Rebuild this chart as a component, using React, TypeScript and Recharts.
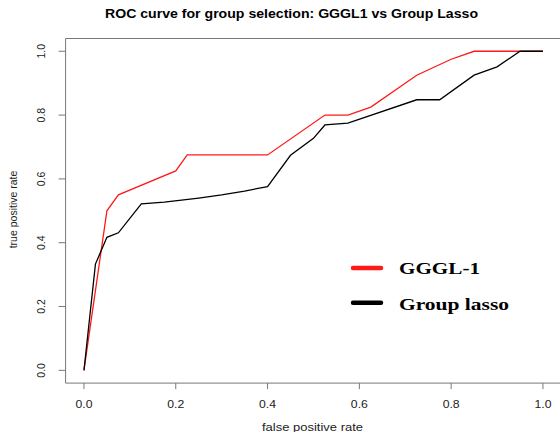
import React from 'react';
import { LineChart, Line, XAxis, YAxis, ReferenceArea, Legend } from 'recharts';

const ggglFpr = [0, 0.05, 0.075, 0.2, 0.225, 0.4, 0.525, 0.575, 0.625, 0.725, 0.8, 0.85, 1.0];
const ggglTpr = [0, 0.5, 0.55, 0.625, 0.675, 0.675, 0.8, 0.8, 0.825, 0.925, 0.975, 1.0, 1.0];

const lassoFpr = [0, 0.025, 0.05, 0.075, 0.125, 0.175, 0.25, 0.3, 0.35, 0.4, 0.45, 0.5, 0.525, 0.575, 0.725, 0.775, 0.85, 0.9, 0.95, 0.975, 1.0];
const lassoTpr = [0, 0.333, 0.417, 0.431, 0.522, 0.527, 0.54, 0.55, 0.562, 0.576, 0.674, 0.727, 0.769, 0.775, 0.848, 0.848, 0.925, 0.951, 1.0, 1.0, 1.0];

const xTicks = [0, 0.2, 0.4, 0.6, 0.8, 1.0];
const yTicks = [0, 0.2, 0.4, 0.6, 0.8, 1.0];

const seriesNames = ['GGGL-1', 'Group lasso'];
const seriesColors = ['#ff1a1a', '#000000'];

const titleText = 'ROC curve for group selection: GGGL1 vs Group Lasso';
const xTitle = 'false positive rate';
const yTitle = 'true positive rate';

const ggglData = ggglFpr.map((f, i) => ({ fpr: f, tpr: ggglTpr[i] }));
const lassoData = lassoFpr.map((f, i) => ({ fpr: f, tpr: lassoTpr[i] }));

const SANS = '"Liberation Sans", Arial, Helvetica, sans-serif';
const SERIF = '"Liberation Serif", "Times New Roman", serif';

const YTick = (props: any) => {
  const { x, y, payload } = props;
  return (
    <text
      x={x}
      y={y}
      transform={`rotate(-90 ${x} ${y})`}
      textAnchor="middle"
      fontSize={10.5}
      fill="#222"
      fontFamily={SANS}
    >
      {Number(payload.value).toFixed(1)}
    </text>
  );
};

const XTick = (props: any) => {
  const { x, y, payload } = props;
  return (
    <text
      x={x}
      y={y}
      dy="0.71em"
      textAnchor="middle"
      fontSize={10.5}
      fill="#222"
      fontFamily={SANS}
      textLength={17}
      lengthAdjust="spacingAndGlyphs"
    >
      {Number(payload.value).toFixed(1)}
    </text>
  );
};

const LegendContent = () => {
  const widths = [81, 110];
  return (
    <svg width={210} height={72} style={{ display: 'block' }}>
      {seriesNames.map((name, i) => {
        const ly = i === 0 ? 18 : 52.7;
        const ty = i === 0 ? 23.5 : 60;
        return (
          <g key={name}>
            <line x1={13} x2={41} y1={ly} y2={ly} stroke={seriesColors[i]} strokeWidth={4.5} strokeLinecap="round" />
            <text
              x={59}
              y={ty}
              fontSize={17.5}
              fontWeight="bold"
              fontFamily={SERIF}
              fill="#000"
              textLength={widths[i]}
              lengthAdjust="spacingAndGlyphs"
            >
              {name}
            </text>
          </g>
        );
      })}
    </svg>
  );
};

export default function App() {
  return (
    <div style={{ position: 'absolute', left: 0, top: 0, width: 560, height: 432, overflow: 'hidden', background: '#fff' }}>
      <LineChart
        width={562}
        height={432}
        margin={{ top: 38.5, right: 0.7, left: 0, bottom: 0 }}
      >
        <text
          x={291.5}
          y={18}
          textAnchor="middle"
          fontSize={13}
          fontWeight="bold"
          fontFamily={SANS}
          fill="#000"
          textLength={373}
          lengthAdjust="spacingAndGlyphs"
        >
          {titleText}
        </text>
        <text
          x={312.5}
          y={431}
          textAnchor="middle"
          fontSize={10.5}
          fontFamily={SANS}
          fill="#222"
          textLength={101}
          lengthAdjust="spacingAndGlyphs"
        >
          {xTitle}
        </text>
        <text
          x={17}
          y={209.5}
          transform="rotate(-90 17 209.5)"
          textAnchor="middle"
          fontSize={10.5}
          fontFamily={SANS}
          fill="#222"
        >
          {yTitle}
        </text>
        <XAxis
          type="number"
          dataKey="fpr"
          domain={[-0.04, 1.04]}
          ticks={xTicks}
          axisLine={false}
          tickLine={{ stroke: '#777' }}
          tickSize={6}
          tickMargin={11}
          height={48.9}
          interval={0}
          allowDataOverflow
          tick={<XTick />}
        />
        <YAxis
          type="number"
          dataKey="tpr"
          domain={[-0.04, 1.04]}
          ticks={yTicks}
          axisLine={false}
          tickLine={{ stroke: '#777' }}
          tickSize={7}
          tickMargin={13.6}
          width={65.6}
          interval={0}
          allowDataOverflow
          tick={<YTick />}
        />
        <ReferenceArea
          x1={-0.04}
          x2={1.04}
          y1={-0.04}
          y2={1.04}
          fill="none"
          stroke="#777"
          strokeWidth={1}
          ifOverflow="visible"
        />
        <Line
          data={ggglData}
          dataKey="tpr"
          type="linear"
          name={seriesNames[0]}
          stroke={seriesColors[0]}
          strokeWidth={1.3}
          dot={false}
          isAnimationActive={false}
        />
        <Line
          data={lassoData}
          dataKey="tpr"
          type="linear"
          name={seriesNames[1]}
          stroke={seriesColors[1]}
          strokeWidth={1.3}
          dot={false}
          isAnimationActive={false}
        />
        <Legend
          layout="vertical"
          align="center"
          verticalAlign="middle"
          content={<LegendContent />}
          wrapperStyle={{ position: 'absolute', left: 340, top: 250, width: 210, height: 72 }}
        />
      </LineChart>
    </div>
  );
}
